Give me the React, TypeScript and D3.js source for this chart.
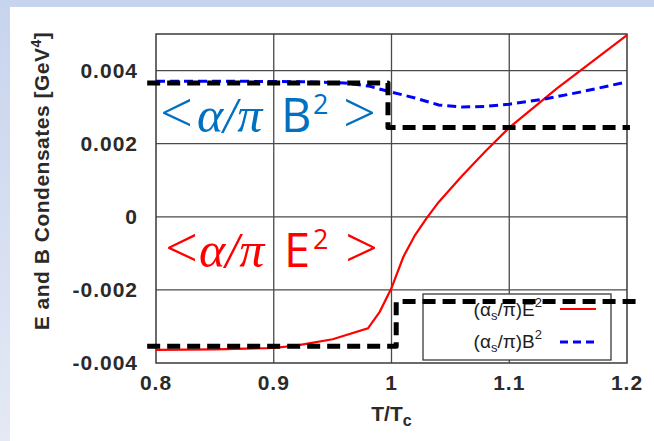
import React from 'react';
import * as d3 from 'd3';

// T/Tc samples and condensates [GeV^4]
const tempE = [0.8, 0.85, 0.9, 0.92, 0.95, 0.98, 0.99, 1.0, 1.01, 1.02, 1.03, 1.04, 1.06, 1.08, 1.1, 1.14, 1.2];
const valE = [-0.00364, -0.00363, -0.00359, -0.00352, -0.00335, -0.00305, -0.0026, -0.00195, -0.0011, -0.0005, -0.00003, 0.0004, 0.00112, 0.0018, 0.00244, 0.0035, 0.00497];

const tempB = [0.8, 0.85, 0.9, 0.93, 0.96, 0.98, 1.0, 1.02, 1.04, 1.06, 1.08, 1.1, 1.13, 1.16, 1.2];
const valB = [0.00371, 0.00371, 0.0037, 0.00369, 0.00366, 0.00358, 0.00341, 0.00325, 0.00306, 0.003, 0.00302, 0.00308, 0.00322, 0.00341, 0.00369];

// hand drawn step guides laid over the plot
const stepBT = [0.7925, 0.997, 0.997, 1.2025];
const stepBV = [0.00366, 0.00366, 0.00244, 0.00244];
const stepET = [0.7925, 1.004, 1.004, 1.209];
const stepEV = [-0.00354, -0.00354, -0.00232, -0.00232];

const xTicks = [0.8, 0.9, 1.0, 1.1, 1.2];
const yTicks = [-0.004, -0.002, 0, 0.002, 0.004];
const xTickLabels = ['0.8', '0.9', '1', '1.1', '1.2'];
const yTickLabels = ['-0.004', '-0.002', '0', '0.002', '0.004'];

const W = 654;
const H = 441;

export default function App() {
    const x = d3.scaleLinear().domain([0.8, 1.2]).range([156, 627]);
    const y = d3.scaleLinear().domain([-0.004, 0.005]).range([363, 34]);

    const line = d3.line<[number, number]>()
        .x(d => x(d[0]))
        .y(d => y(d[1]));

    const ePts = tempE.map((t, i) => [t, valE[i]] as [number, number]);
    const bPts = tempB.map((t, i) => [t, valB[i]] as [number, number]);
    const sbPts = stepBT.map((t, i) => [t, stepBV[i]] as [number, number]);
    const sePts = stepET.map((t, i) => [t, stepEV[i]] as [number, number]);

    const sans = 'Liberation Sans, Arial, sans-serif';
    const tickFont = { fontFamily: sans, fontSize: 21, fontWeight: 'bold', fill: '#2a2a2a', letterSpacing: 1 };
    const [x0, x1] = x.range();
    const [y0, y1] = y.range();

    // legend
    const legX = 423, legY = 294, legW = 188, legH = 66;

    return (
        <div style={{ position: 'absolute', left: 0, top: 0 }}>
            <svg width={W} height={H}>
                <defs>
                    <linearGradient id="bg" x1="0" y1="0" x2="0" y2="1">
                        <stop offset="0" stopColor="#c7d4ee" />
                        <stop offset="1" stopColor="#e4e9f4" />
                    </linearGradient>
                </defs>
                <rect x={0} y={0} width={W} height={H} fill="url(#bg)" />
                <rect x={10} y={7} width={W - 10} height={H - 7} fill="#ffffff" />

                {/* grid */}
                {xTicks.slice(1, -1).map(t => (
                    <line key={'gx' + t} x1={x(t)} x2={x(t)} y1={y1} y2={y0} stroke="#4a4a4a" strokeWidth={1.3} />
                ))}
                {yTicks.slice(1).map(t => (
                    <line key={'gy' + t} x1={x0} x2={x1} y1={y(t)} y2={y(t)} stroke="#4a4a4a" strokeWidth={1.3} />
                ))}
                <rect x={x0} y={y1} width={x1 - x0} height={y0 - y1} fill="none" stroke="#3a3a3a" strokeWidth={1.5} />

                {/* tick labels */}
                {xTicks.map((t, i) => (
                    <text key={'tx' + t} x={x(t)} y={390} textAnchor="middle" {...tickFont}>{xTickLabels[i]}</text>
                ))}
                {yTicks.map((t, i) => (
                    <text key={'ty' + t} x={138} y={y(t) + 7} textAnchor="end" {...tickFont}>{yTickLabels[i]}</text>
                ))}

                {/* axis titles */}
                <text x={x(1.0)} y={421} textAnchor="middle" fontFamily={sans} fontSize={21} fill="#2a2a2a" fontWeight="bold">
                    T/T<tspan fontSize={16} dy={5}>c</tspan>
                </text>
                <text transform="translate(49,181) rotate(-90)" textAnchor="middle" fontFamily={sans} fontSize={21} fill="#2a2a2a" fontWeight="bold" letterSpacing={0.5}>
                    E and B Condensates [GeV<tspan fontSize={14} dy={-8}>4</tspan><tspan dy={8}>]</tspan>
                </text>

                {/* data */}
                <path d={line(ePts) ?? ''} fill="none" stroke="#ff0000" strokeWidth={2.2} />
                <path d={line(bPts) ?? ''} fill="none" stroke="#0000ff" strokeWidth={3} strokeDasharray="9 5" />

                {/* legend */}
                <rect x={legX} y={legY} width={legW} height={legH} fill="#ffffff" stroke="#3a3a3a" strokeWidth={1.3} />
                <text x={542} y={316} textAnchor="end" fontFamily={sans} fontSize={19} fill="#1e1e1e">
                    (α<tspan fontSize={13} dy={4}>s</tspan><tspan dy={-4}>/π)E</tspan><tspan fontSize={13} dy={-9}>2</tspan>
                </text>
                <text x={542} y={348} textAnchor="end" fontFamily={sans} fontSize={19} fill="#1e1e1e">
                    (α<tspan fontSize={13} dy={4}>s</tspan><tspan dy={-4}>/π)B</tspan><tspan fontSize={13} dy={-9}>2</tspan>
                </text>
                <line x1={560} x2={596} y1={309} y2={309} stroke="#ff0000" strokeWidth={2.2} />
                <line x1={560} x2={596} y1={342} y2={342} stroke="#0000ff" strokeWidth={3} strokeDasharray="8 5" />

                {/* overlaid step guides */}
                <path d={line(sbPts) ?? ''} fill="none" stroke="#000" strokeWidth={5} strokeDasharray="13 7" strokeLinejoin="round" />
                <path d={line(sePts) ?? ''} fill="none" stroke="#000" strokeWidth={5} strokeDasharray="13 7" strokeLinejoin="round" />

                {/* annotations */}
                <g fill="#0070c0">
                    <text x={160} y={134} fontFamily="Open Sans, sans-serif" fontWeight={300} fontSize={58}>&lt;</text>
                    <text x={197} y={132} fontFamily="Liberation Serif, serif" fontStyle="italic" fontSize={50}>α/π</text>
                    <text x={281} y={132} fontFamily="Open Sans, sans-serif" fontSize={47}>B</text>
                    <text x={313} y={114} fontFamily="Open Sans, sans-serif" fontSize={27}>2</text>
                    <text x={343} y={134} fontFamily="Open Sans, sans-serif" fontWeight={300} fontSize={58}>&gt;</text>
                </g>
                <g fill="#ff0000">
                    <text x={165} y={269} fontFamily="Open Sans, sans-serif" fontWeight={300} fontSize={58}>&lt;</text>
                    <text x={199} y={267} fontFamily="Liberation Serif, serif" fontStyle="italic" fontSize={50}>α/π</text>
                    <text x={284} y={267} fontFamily="Open Sans, sans-serif" fontSize={47}>E</text>
                    <text x={313} y={249} fontFamily="Open Sans, sans-serif" fontSize={27}>2</text>
                    <text x={345} y={269} fontFamily="Open Sans, sans-serif" fontWeight={300} fontSize={58}>&gt;</text>
                </g>
            </svg>
        </div>
    );
}
